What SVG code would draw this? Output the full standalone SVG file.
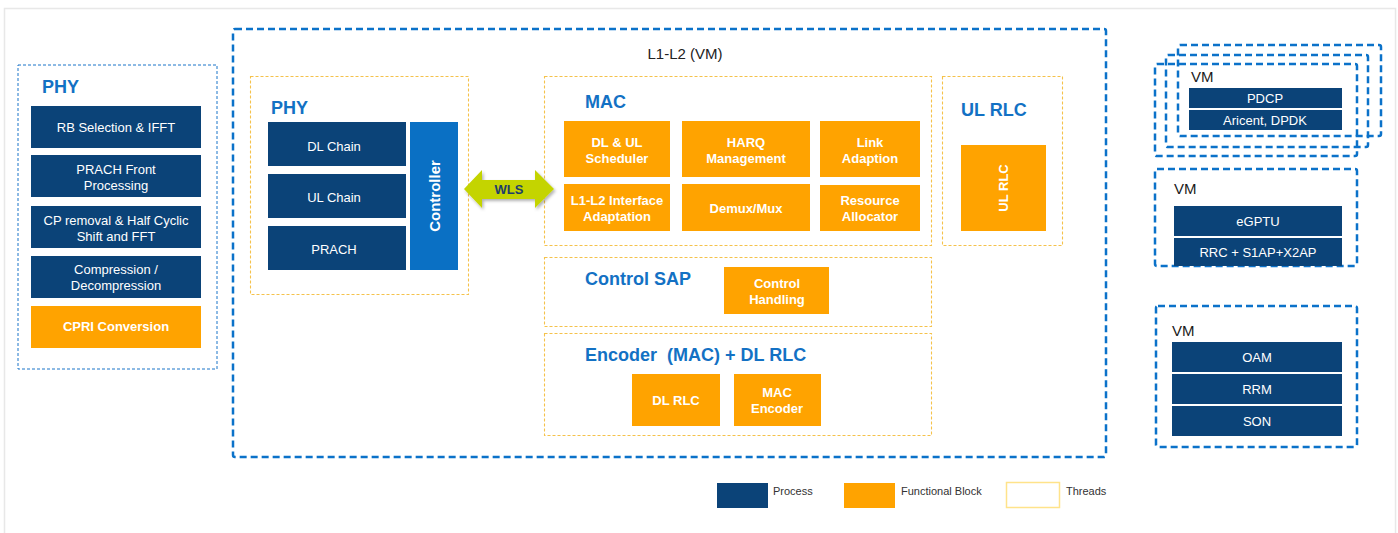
<svg xmlns="http://www.w3.org/2000/svg" width="1398" height="533" viewBox="0 0 1398 533">
<style>
text{font-family:"Liberation Sans",Arial,sans-serif}
.vm{fill:none;stroke:#0b72c9;stroke-width:2.5;stroke-dasharray:7 4}
.thr{fill:#fff;stroke:#f5c24a;stroke-width:1.1;stroke-dasharray:3 2}
.proc{fill:#0b4378}
.fb{fill:#ffa300}
.pt{fill:#fff;font-size:13px;text-anchor:middle}
.ft{fill:#fff;font-size:13px;font-weight:bold;text-anchor:middle}
.hd{fill:#1371c4;font-size:18px;font-weight:bold}
.vml{fill:#1a1a1a;font-size:15px}
.lg{fill:#333;font-size:11px}
</style>
<defs>
<filter id="sh" x="-10%" y="-20%" width="130%" height="150%"><feDropShadow dx="1.5" dy="2" stdDeviation="1.5" flood-color="#000" flood-opacity="0.3"/></filter>
</defs>
<rect x="4.5" y="8.5" width="1391" height="530" fill="#fff" stroke="#e8e8e8" stroke-width="1.5"/>

<g id="phy-left">
<rect x="18" y="65" width="199" height="304" fill="none" stroke="#1a75c9" stroke-width="1" stroke-dasharray="3 2"/>
<text class="hd" x="42" y="93">PHY</text>
<rect class="proc" x="31" y="106" width="170" height="42"/>
<text class="pt" x="116" y="132">RB Selection &amp; IFFT</text>
<rect class="proc" x="31" y="155" width="170" height="42"/>
<text class="pt" x="116" y="174">PRACH Front</text>
<text class="pt" x="116" y="190">Processing</text>
<rect class="proc" x="31" y="206" width="170" height="42"/>
<text class="pt" x="116" y="225">CP removal &amp; Half Cyclic</text>
<text class="pt" x="116" y="241">Shift and FFT</text>
<rect class="proc" x="31" y="256" width="170" height="42"/>
<text class="pt" x="116" y="274">Compression /</text>
<text class="pt" x="116" y="290">Decompression</text>
<rect class="fb" x="31" y="306" width="170" height="42"/>
<text class="ft" x="116" y="331">CPRI  Conversion</text>
</g>

<g id="l1l2-vm">
<rect class="vm" x="233" y="29" width="873" height="428" rx="2"/>
<text x="685" y="59" fill="#222" font-size="15" text-anchor="middle">L1-L2 (VM)</text>
</g>

<g id="phy-thread">
<rect class="thr" x="250.5" y="76.5" width="218" height="218"/>
<text class="hd" x="271" y="114">PHY</text>
<rect class="proc" x="268" y="122" width="138" height="44"/>
<text class="pt" x="334" y="151">DL Chain</text>
<rect class="proc" x="268" y="174" width="138" height="44"/>
<text class="pt" x="334" y="202">UL Chain</text>
<rect class="proc" x="268" y="226" width="138" height="44"/>
<text class="pt" x="334" y="254">PRACH</text>
<rect x="410" y="122" width="48" height="148" fill="#0a70c4"/>
<text transform="translate(440 196) rotate(-90)" fill="#fff" font-size="15" font-weight="bold" text-anchor="middle">Controller</text>
</g>

<g id="mac-thread">
<rect class="thr" x="544.5" y="76.5" width="387" height="169"/>
<text class="hd" x="585" y="108">MAC</text>
<rect class="fb" x="564" y="121" width="106" height="56"/>
<text class="ft" x="617" y="147">DL &amp; UL</text>
<text class="ft" x="617" y="163">Scheduler</text>
<rect class="fb" x="682" y="121" width="128" height="56"/>
<text class="ft" x="746" y="147">HARQ</text>
<text class="ft" x="746" y="163">Management</text>
<rect class="fb" x="820" y="121" width="100" height="56"/>
<text class="ft" x="870" y="147">Link</text>
<text class="ft" x="870" y="163">Adaption</text>
<rect class="fb" x="564" y="184" width="106" height="47"/>
<text class="ft" x="617" y="205">L1-L2 Interface</text>
<text class="ft" x="617" y="221">Adaptation</text>
<rect class="fb" x="682" y="184" width="128" height="47"/>
<text class="ft" x="746" y="213">Demux/Mux</text>
<rect class="fb" x="820" y="185" width="100" height="46"/>
<text class="ft" x="870" y="205">Resource</text>
<text class="ft" x="870" y="221">Allocator</text>
</g>

<g id="ulrlc-thread">
<rect class="thr" x="942.5" y="76.5" width="120" height="169"/>
<text class="hd" x="961" y="116">UL RLC</text>
<rect class="fb" x="961" y="145" width="85" height="86"/>
<text transform="translate(1008 188) rotate(-90)" fill="#fff" font-size="13" font-weight="bold" text-anchor="middle">UL RLC</text>
</g>

<g id="controlsap-thread">
<rect class="thr" x="544.5" y="257.5" width="387" height="69"/>
<text class="hd" x="585" y="285">Control SAP</text>
<rect class="fb" x="724" y="267" width="105" height="47"/>
<text class="ft" x="777" y="288">Control</text>
<text class="ft" x="777" y="304">Handling</text>
</g>

<g id="encoder-thread">
<rect class="thr" x="544.5" y="333.5" width="387" height="102"/>
<text class="hd" x="585" y="361" xml:space="preserve">Encoder  (MAC) + DL RLC</text>
<rect class="fb" x="632" y="374" width="88" height="52"/>
<text class="ft" x="676" y="405">DL RLC</text>
<rect class="fb" x="734" y="374" width="87" height="52"/>
<text class="ft" x="777" y="397">MAC</text>
<text class="ft" x="777" y="413">Encoder</text>
</g>

<g id="connectors">
<g id="wls" filter="url(#sh)">
<polygon points="464,189 482,170 482,180 535,180 535,170 554,189 535,208 535,199 482,199 482,208" fill="#c4d400"/>
</g>
<text x="509" y="194" fill="#1f3d6b" font-size="13" font-weight="bold" text-anchor="middle">WLS</text>
</g>

<g id="vm-pdcp">
<rect class="vm" x="1178" y="45" width="203" height="91" rx="2"/>
<rect class="vm" x="1166" y="55" width="202" height="92" rx="2"/>
<rect class="vm" x="1155" y="64" width="202" height="92" rx="2" fill="#fff"/>
<text class="vml" x="1191" y="82">VM</text>
<rect class="proc" x="1189" y="88" width="153" height="20"/>
<text class="pt" x="1265" y="103">PDCP</text>
<rect class="proc" x="1189" y="110" width="153" height="20"/>
<text class="pt" x="1265" y="125">Aricent, DPDK</text>
</g>

<g id="vm-egptu">
<rect class="vm" x="1155" y="169" width="202" height="97" rx="2"/>
<text class="vml" x="1174" y="194">VM</text>
<rect class="proc" x="1174" y="206" width="168" height="30"/>
<text class="pt" x="1258" y="226">eGPTU</text>
<rect class="proc" x="1174" y="238" width="168" height="28"/>
<text class="pt" x="1258" y="257">RRC + S1AP+X2AP</text>
</g>

<g id="vm-oam">
<rect class="vm" x="1156" y="306" width="201" height="141" rx="2"/>
<text class="vml" x="1172" y="336">VM</text>
<rect class="proc" x="1172" y="342" width="170" height="30"/>
<text class="pt" x="1257" y="362">OAM</text>
<rect class="proc" x="1172" y="374" width="170" height="30"/>
<text class="pt" x="1257" y="394">RRM</text>
<rect class="proc" x="1172" y="406" width="170" height="30"/>
<text class="pt" x="1257" y="426">SON</text>
</g>

<g id="legend">
<rect class="proc" x="717" y="483" width="51" height="25"/>
<text class="lg" x="773" y="495">Process</text>
<rect class="fb" x="844" y="483" width="51" height="25"/>
<text class="lg" x="901" y="495">Functional Block</text>
<rect x="1006.5" y="482.5" width="53" height="25" fill="#fff" stroke="#ffe38a" stroke-width="1.5"/>
<text class="lg" x="1066" y="495">Threads</text>
</g>
</svg>
